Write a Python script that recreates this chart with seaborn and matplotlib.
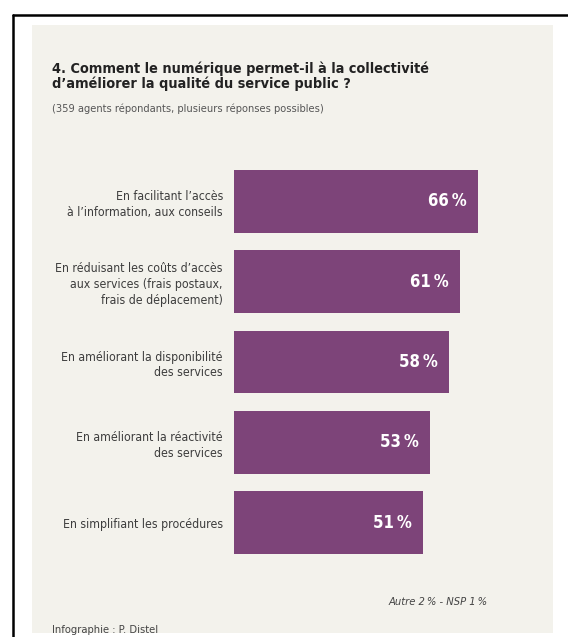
import matplotlib.pyplot as plt
import pandas as pd
import seaborn as sns
from matplotlib.patches import Rectangle
from matplotlib.lines import Line2D

categories = [
    "En facilitant l’accès\nà l’information, aux conseils",
    "En réduisant les coûts d’accès\naux services (frais postaux,\nfrais de déplacement)",
    "En améliorant la disponibilité\ndes services",
    "En améliorant la réactivité\ndes services",
    "En simplifiant les procédures",
]
values = [66, 61, 58, 53, 51]

df = pd.DataFrame({'categorie': categories, 'pourcentage': values})

sns.set_theme(style='white')
plt.rcParams['font.family'] = ['DejaVu Sans']
plt.rcParams['font.stretch'] = 'condensed'

W, H = 568, 637
fig = plt.figure(figsize=(W / 100, H / 100), dpi=100)
fig.patch.set_facecolor('white')

# panel background and frame
fig.patches.append(Rectangle((32 / W, 1 - 633 / H), (553 - 32) / W, (633 - 25) / H,
                             transform=fig.transFigure, facecolor='#f3f2ec',
                             edgecolor='none', zorder=-5))
fig.lines.append(Line2D([12.5 / W, 12.5 / W], [0, 1 - 14.5 / H], transform=fig.transFigure,
                        color='black', lw=1.8))
fig.lines.append(Line2D([12.5 / W, 1], [1 - 14.5 / H, 1 - 14.5 / H], transform=fig.transFigure,
                        color='black', lw=1.8))

axes = fig.add_axes([234 / W, (H - 563) / H, 296 / W, 402 / H])
axes.set_facecolor('none')

sns.barplot(data=df, x='pourcentage', y='categorie', color='#7d4479', saturation=1,
            width=0.78, linewidth=0, ax=axes)

axes.set_xlim(0, 80)
axes.set_ylim(4.5, -0.5)
axes.set_xticks([])
axes.set_xlabel('')
axes.set_ylabel('')
sns.despine(ax=axes, left=True, bottom=True)
axes.tick_params(axis='y', length=0, pad=8, labelsize=8.8, labelcolor='#3d3d3d')
for lab in axes.get_yticklabels():
    lab.set_horizontalalignment('right')
    lab.set_multialignment('right')
    lab.set_linespacing(1.3)

for i, v in enumerate(values):
    axes.annotate(f"{v}\u2009%", xy=(v, i), xytext=(-8, 0), textcoords='offset points',
                  ha='right', va='center', color='white', fontsize=12, fontweight='bold')

fig.text(52 / W, 1 - 61 / H,
         "4. Comment le numérique permet-il à la collectivité\nd’améliorer la qualité du service public ?",
         ha='left', va='top', fontsize=10.4, fontweight='bold', color='#222222',
         linespacing=1.05)
fig.text(52 / W, 1 - 104 / H, "(359 agents répondants, plusieurs réponses possibles)",
         ha='left', va='top', fontsize=7.9, color='#555555')
fig.text(488 / W, 1 - 602 / H, "Autre 2\u2009% - NSP 1\u2009%", ha='right', va='center',
         fontsize=8, style='italic', color='#444444')
fig.text(52 / W, 1 - 625 / H, "Infographie : P. Distel", ha='left', va='top',
         fontsize=8, color='#444444')

fig.savefig('out.png', dpi=100)
